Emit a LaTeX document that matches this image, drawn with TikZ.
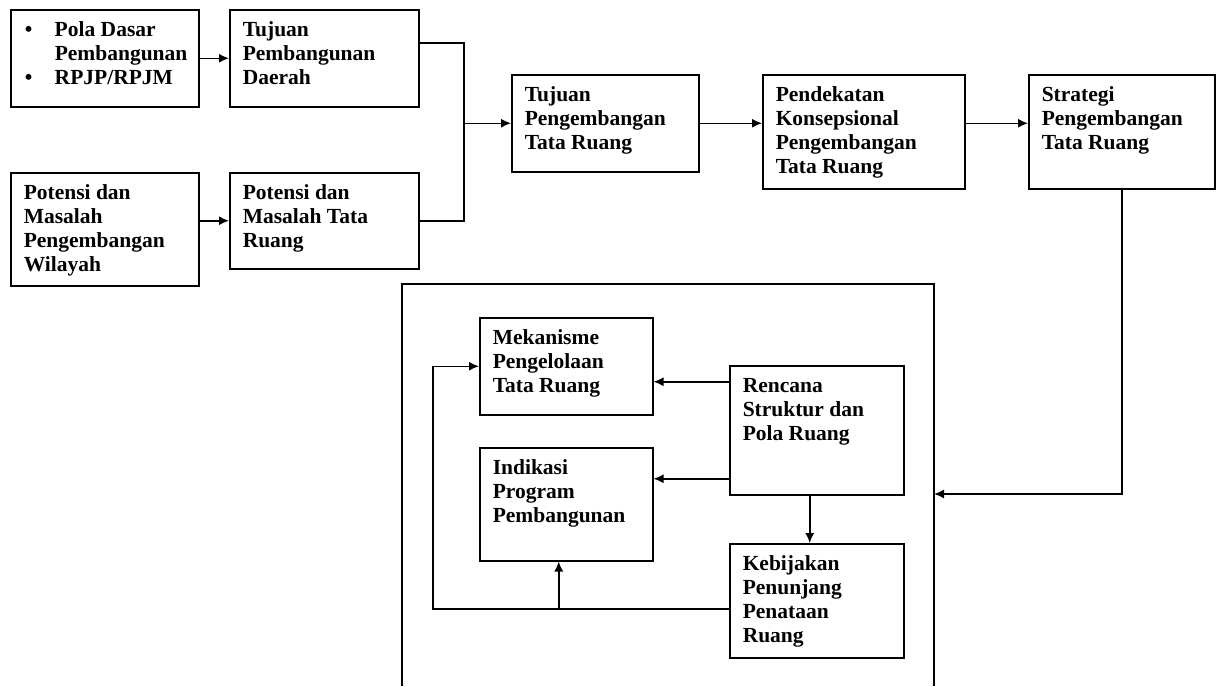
\documentclass[tikz,border=0pt]{standalone}
\usepackage{fontspec}
\setmainfont{Liberation Serif}
\usepackage{tikz}
\usetikzlibrary{positioning,arrows.meta}

\newcommand{\boxtext}[3]{\parbox[c][#2pt][t]{\dimexpr#1pt-26pt\relax}{\raggedright\rule{0pt}{27pt}#3}}
\newcommand{\bul}{\makebox[31pt][l]{\hspace{1pt}\textbullet}}

\begin{document}
\begin{tikzpicture}[
  x=1pt, y=-1pt,
  font=\bfseries\fontsize{21.5}{24}\selectfont,
  box/.style={draw, line width=1.5pt, anchor=north west, inner xsep=13pt, inner ysep=0pt},
  line/.style={line width=1.5pt},
  arr/.style={line, -{Latex[length=10pt,width=9pt]}},
]
\useasboundingbox (0,0) rectangle (1218,686);

% top row
\node[box] (pola) at (10,9) {\boxtext{188}{97}{\bul\mbox{Pola Dasar}\\\hspace*{31pt}\mbox{Pembangunan}\\\bul\mbox{RPJP/RPJM}}};
\node[box] (tpd) at (229,9) {\boxtext{189}{97}{Tujuan\\Pembangunan\\Daerah}};
\node[box] (potwil) at (10,172) {\boxtext{188}{113}{Potensi dan\\Masalah\\Pengembangan\\Wilayah}};
\node[box] (potru) at (229,172) {\boxtext{189}{96}{Potensi dan\\Masalah Tata\\Ruang}};
\node[box] (tptr) at (511,74) {\boxtext{187}{97}{Tujuan\\Pengembangan\\Tata Ruang}};
\node[box] (pendekatan) at (762,74) {\boxtext{202}{114}{Pendekatan\\Konsepsional\\Pengembangan\\Tata Ruang}};
\node[box] (strategi) at (1028,74) {\boxtext{186}{114}{Strategi\\Pengembangan\\Tata Ruang}};

% frame with inner boxes
\draw[line] (402,686) |- (934,284) -- (934,686);
\node[box] (mekanisme) at (479,317) {\boxtext{173}{97}{Mekanisme\\Pengelolaan\\Tata Ruang}};
\node[box] (indikasi) at (479,447) {\boxtext{173}{113}{Indikasi\\Program\\Pembangunan}};
\node[box] (rencana) at (729,365) {\boxtext{174}{129}{Rencana\\Struktur dan\\Pola Ruang}};
\node[box] (kebijakan) at (729,543) {\boxtext{174}{114}{Kebijakan\\Penunjang\\Penataan\\Ruang}};

% helper points
\coordinate (jx) at (464,0);
\coordinate (jn) at (jx |- tptr.west);
\coordinate (fr) at (934,494);
\coordinate (lp) at (433,608);
\coordinate (mr) at ([yshift=-15.5pt]mekanisme.east);
\coordinate (ir) at ([yshift=25.5pt]indikasi.east);
\coordinate (kl) at ([yshift=-8pt]kebijakan.west);
\coordinate (ib) at ([xshift=-7.5pt]indikasi.south);

% connectors
\draw[arr] (pola.east) -- (tpd.west);
\draw[arr] (potwil.east |- potru.west) -- (potru.west);
\draw[line] ([yshift=15.5pt]tpd.east) -| (jn) |- (potru.east);
\draw[arr] (jn) -- (tptr.west);
\draw[arr] (tptr.east) -- (tptr.east -| pendekatan.west);
\draw[arr] (pendekatan.east |- tptr.east) -- (strategi.west |- tptr.east);
\draw[arr] (strategi.south) |- (fr);
\draw[arr] (mr -| rencana.west) -- (mr);
\draw[arr] (ir -| rencana.west) -- (ir);
\draw[arr] ([xshift=-7pt]rencana.south) -- ([xshift=-7pt]kebijakan.north);
\draw[arr] (kl) -| (lp) |- (mekanisme.west);
\draw[arr] (ib |- kl) -- (ib);
\end{tikzpicture}
\end{document}
